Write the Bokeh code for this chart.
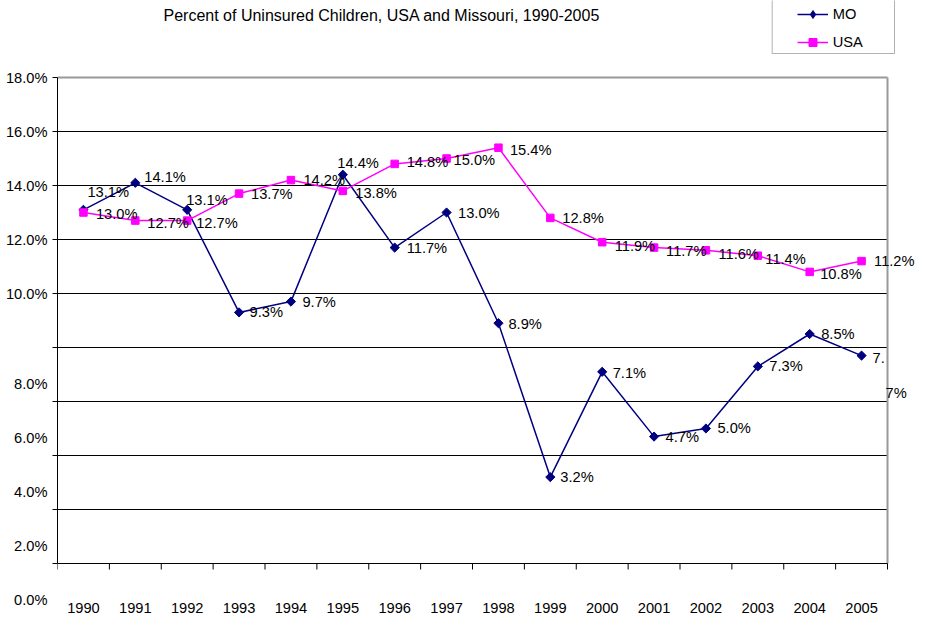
import math
from bokeh.plotting import figure
from bokeh.models import (Range1d, FixedTicker, ColumnDataSource, LabelSet, Label,
                          Legend, LegendItem, BoxAnnotation, LinearAxis)
from bokeh.core.properties import value
from bokeh.embed import file_html
from bokeh.resources import INLINE

# ---------------- data ----------------
years = ["1990", "1991", "1992", "1993", "1994", "1995", "1996", "1997",
         "1998", "1999", "2000", "2001", "2002", "2003", "2004", "2005"]
mo_vals = [13.1, 14.1, 13.1, 9.3, 9.7, 14.4, 11.7, 13.0,
           8.9, 3.2, 7.1, 4.7, 5.0, 7.3, 8.5, 7.7]
usa_vals = [13.0, 12.7, 12.7, 13.7, 14.2, 13.8, 14.8, 15.0,
            15.4, 12.8, 11.9, 11.7, 11.6, 11.4, 10.8, 11.2]
mo_text = ["13.1%", "14.1%", "13.1%", "9.3%", "9.7%", "14.4%", "11.7%", "13.0%",
           "8.9%", "3.2%", "7.1%", "4.7%", "5.0%", "7.3%", "8.5%", "7."]
mo_wrap_text = ["7%"]
usa_text = [f"{v:.1f}%" for v in usa_vals]
y_tick_vals = [0, 2, 4, 6, 8, 10, 12, 14, 16, 18]
title_text = "Percent of Uninsured Children, USA and Missouri, 1990-2005"

# ---------------- layout / style ----------------
W, H = 916, 618
FRAME_LEFT, FRAME_BOTTOM = 57, 600          # frame spans x 57..916, y 0..600
PLOT_RIGHT_PX = 887                          # right edge of plot area
PLOT_TOP_PX, PLOT_BOTTOM_PX = 77, 563        # y=18 and y=0
Y_MAX = 18
N = len(years)
ppu_x = (PLOT_RIGHT_PX - FRAME_LEFT) / N
ppu_y = (PLOT_BOTTOM_PX - PLOT_TOP_PX) / Y_MAX
x_start = -0.5
x_end = x_start + (W - FRAME_LEFT) / ppu_x
y_start = -(FRAME_BOTTOM - PLOT_BOTTOM_PX) / ppu_y
y_end = Y_MAX + PLOT_TOP_PX / ppu_y

FONT = "Liberation Sans"
LBL = "11pt"
MO_COLOR = "#000080"
USA_COLOR = "#FF00FF"
BORDER_GRAY = "#999999"
LOW_LABEL_SHIFT = 36 / ppu_y      # lower tick labels sit below their gridlines
TICK_LEN = 6 / ppu_y

# label offsets (px; dy up) per point
mo_dx = [4, 9, -1, 10.5, 11.5, -5.5, 12, 11.5, 10, 10, 10.5, 11.5, 11.5, 11.5, 11.5, 11]
mo_dy = [17.5, 6, 10, 0, 0, 12, 0, 0, -1, 0, -1, 0, 1, 0, 0, -2]
mo_wrap_dx = [24]
mo_wrap_dy = [-37]
usa_dx = [12.5, 12, 9, 12, 12.5, 12.5, 12, 7, 11.5, 12, 12.5, 12, 12.5, 7.5, 10.5, 12.5]
usa_dy = [-1.5, -2.5, -2.5, 0, 0, -2, 2, -1.5, -2.5, 0, -4, -3, -3.5, -3.5, -2, 0]

xs = list(range(N))
boundaries = [i - 0.5 for i in range(N + 1)]
x_lo, x_hi = boundaries[0], boundaries[-1]

p = figure(width=W, height=H, output_backend="svg", toolbar_location=None,
           x_range=Range1d(x_start, x_end), y_range=Range1d(y_start, y_end),
           min_border_left=FRAME_LEFT, min_border_right=0, min_border_top=0,
           min_border_bottom=H - FRAME_BOTTOM, title=None)
p.background_fill_color = "white"
p.border_fill_color = "white"
p.outline_line_color = None
p.xgrid.visible = False
p.ygrid.visible = False

# ---- x axis (labels only) ----
xa = p.xaxis[0]
xa.ticker = FixedTicker(ticks=xs)
xa.major_label_overrides = {i: y for i, y in zip(xs, years)}
xa.axis_line_color = None
xa.major_tick_line_color = None
xa.minor_tick_line_color = None
xa.major_tick_out = 0
xa.major_tick_in = 0
xa.major_label_standoff = 2
xa.major_label_text_font = FONT
xa.major_label_text_font_size = LBL
xa.major_label_text_color = "black"

# ---- y axis: inner (line + ticks at gridlines) ----
ya = p.yaxis[0]
ya.bounds = (0, Y_MAX)
ya.ticker = FixedTicker(ticks=[], minor_ticks=y_tick_vals)
ya.axis_line_color = "black"
ya.major_tick_line_color = None
ya.major_tick_out = 0
ya.major_tick_in = 0
ya.minor_tick_out = 5
ya.minor_tick_in = 0
ya.minor_tick_line_color = "black"
ya.major_label_standoff = 0


def label_pos(v):
    return v if v >= 10 else v - LOW_LABEL_SHIFT


# ---- y axis: outer (labels) ----
ya2 = LinearAxis(ticker=FixedTicker(ticks=[label_pos(v) for v in y_tick_vals]),
                 major_label_overrides={label_pos(v): f"{v:.1f}%" for v in y_tick_vals},
                 axis_line_color=None, major_tick_line_color=None,
                 minor_tick_line_color=None, major_tick_out=0, major_tick_in=0,
                 major_label_standoff=5, major_label_text_font=FONT,
                 major_label_text_font_size=LBL, major_label_text_color="black")
p.add_layout(ya2, "left")

# ---- plot area frame, gridlines, x axis line and ticks ----
grid_y = [v for v in y_tick_vals if 0 < v < Y_MAX]
p.segment(x0=[x_lo] * len(grid_y), y0=grid_y, x1=[x_hi] * len(grid_y), y1=grid_y,
          line_color="black", line_width=1)
p.segment(x0=[x_lo, x_hi], y0=[Y_MAX, 0], x1=[x_hi, x_hi], y1=[Y_MAX, Y_MAX],
          line_color=BORDER_GRAY, line_width=2)
p.segment(x0=[x_lo], y0=[0], x1=[x_hi], y1=[0], line_color="black", line_width=1)
p.segment(x0=boundaries, y0=[0] * len(boundaries), x1=boundaries,
          y1=[-TICK_LEN] * len(boundaries), line_color="black", line_width=1)

# ---- series ----
mo_line = p.line(xs, mo_vals, line_color=MO_COLOR, line_width=1.5)
mo_pts = p.scatter(xs, mo_vals, marker="square", angle=math.pi / 4, size=6.5,
                   fill_color=MO_COLOR, line_color=MO_COLOR)
usa_line = p.line(xs, usa_vals, line_color=USA_COLOR, line_width=1.5)
usa_pts = p.scatter(xs, usa_vals, marker="square", size=7.5,
                    fill_color=USA_COLOR, line_color=USA_COLOR)
# legend-only key marker (diamond) for the MO entry; NaN point draws nothing in the plot
mo_key = p.scatter(x=[float("nan")], y=[float("nan")], marker="diamond", size=10,
                   fill_color=MO_COLOR, line_color=MO_COLOR)

# ---- data labels ----
mo_src = ColumnDataSource(dict(x=xs + [xs[-1]], y=mo_vals + [mo_vals[-1]],
                               t=mo_text + mo_wrap_text,
                               dx=mo_dx + mo_wrap_dx, dy=mo_dy + mo_wrap_dy))
usa_src = ColumnDataSource(dict(x=xs, y=usa_vals, t=usa_text, dx=usa_dx, dy=usa_dy))
for src in (usa_src, mo_src):
    p.add_layout(LabelSet(x="x", y="y", text="t", source=src, x_offset="dx", y_offset="dy",
                          text_align="left", text_baseline="middle",
                          text_font=value(FONT), text_font_size=LBL, text_color="black"))

# ---- title (inside the tall frame) ----
p.add_layout(Label(x=163 - FRAME_LEFT, y=FRAME_BOTTOM - 15, x_units="screen",
                   y_units="screen", text=title_text, text_align="left",
                   text_baseline="middle", text_font=FONT, text_font_size="12pt",
                   text_color="black"))

# ---- legend ----
legend = Legend(items=[LegendItem(label="MO", renderers=[mo_line, mo_key]),
                       LegendItem(label="USA", renderers=[usa_line, usa_pts])],
                location=(796.7 - FRAME_LEFT, FRAME_BOTTOM - 52), orientation="vertical",
                glyph_width=31, glyph_height=20, label_height=20, label_standoff=5,
                spacing=8, padding=4, margin=0,
                border_line_color=None, background_fill_alpha=0,
                label_text_font=FONT, label_text_font_size=LBL, label_text_color="black")
p.add_layout(legend)
p.add_layout(BoxAnnotation(left=771.7 - FRAME_LEFT, right=894 - FRAME_LEFT,
                           bottom=FRAME_BOTTOM - 53, top=FRAME_BOTTOM + 5,
                           left_units="screen", right_units="screen",
                           bottom_units="screen", top_units="screen",
                           fill_alpha=0, line_color="black", line_width=1))

open("out.html", "w").write(file_html(p, INLINE))
